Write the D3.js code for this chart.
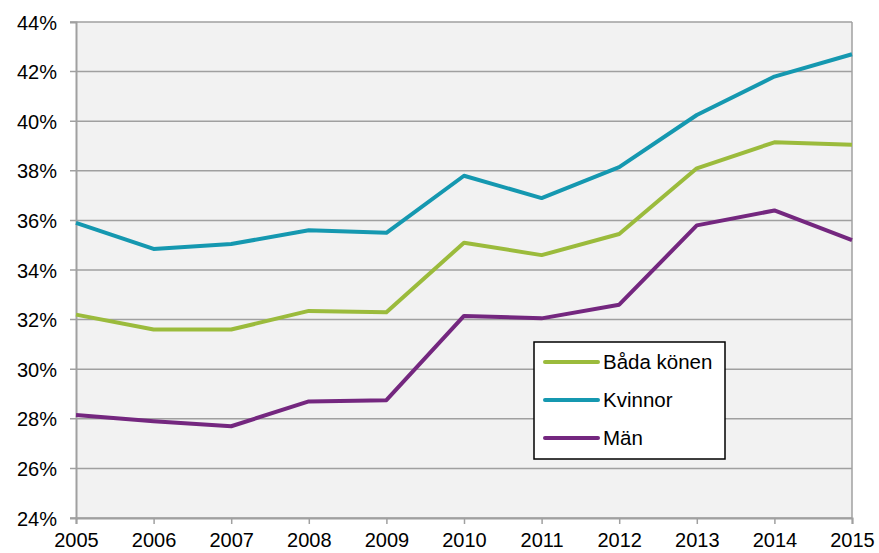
<!DOCTYPE html>
<html>
<head>
  <meta charset="utf-8">
  <title>Andel per år</title>
  <script src="https://d3js.org/d3.v7.min.js"></script>
  <style>
    body { margin: 0; background: #fff; font-family: Arial, "Liberation Sans", sans-serif; }
    svg text { font-family: Arial, "Liberation Sans", sans-serif; fill: #000; }
  </style>
</head>
<body>
  <svg width="879" height="553"></svg>
  <script>
    // data
    const years = [2005, 2006, 2007, 2008, 2009, 2010, 2011, 2012, 2013, 2014, 2015];
    const bada = [32.2, 31.6, 31.6, 32.35, 32.3, 35.1, 34.6, 35.45, 38.1, 39.15, 39.05];
    const kvinnor = [35.9, 34.85, 35.05, 35.6, 35.5, 37.8, 36.9, 38.15, 40.25, 41.8, 42.7];
    const man = [28.15, 27.9, 27.7, 28.7, 28.75, 32.15, 32.05, 32.6, 35.8, 36.4, 35.2];
    const yTicks = [24, 26, 28, 30, 32, 34, 36, 38, 40, 42, 44];

    const series = [
      { name: "Båda könen", values: bada, color: "#9bbb3c" },
      { name: "Kvinnor", values: kvinnor, color: "#1598b0" },
      { name: "Män", values: man, color: "#74277f" }
    ];

    const svg = d3.select("svg");
    const plot = { left: 76, right: 852, top: 22, bottom: 518 };

    const x = d3.scaleLinear().domain([2005, 2015]).range([plot.left, plot.right]);
    const y = d3.scaleLinear().domain([24, 44]).range([plot.bottom, plot.top]);

    // plot background
    svg.append("rect")
      .attr("x", plot.left).attr("y", plot.top)
      .attr("width", plot.right - plot.left).attr("height", plot.bottom - plot.top)
      .attr("fill", "#f2f2f2");

    // horizontal grid
    svg.append("g").selectAll("line")
      .data(yTicks)
      .enter().append("line")
      .attr("x1", plot.left - 6).attr("x2", plot.right)
      .attr("y1", d => y(d)).attr("y2", d => y(d))
      .attr("stroke", "#a0a0a0").attr("stroke-width", 1.5);

    // right border
    svg.append("line")
      .attr("x1", plot.right).attr("x2", plot.right).attr("y1", plot.top).attr("y2", plot.bottom)
      .attr("stroke", "#a0a0a0").attr("stroke-width", 1.5);

    // y axis
    const yAxis = svg.append("g")
      .attr("transform", `translate(${plot.left},0)`)
      .call(d3.axisLeft(y).tickValues(yTicks).tickSize(6).tickPadding(13).tickFormat(d => d + "%"));
    yAxis.select(".domain").attr("stroke", "#a0a0a0").attr("stroke-width", 2);
    yAxis.selectAll(".tick line").remove();
    yAxis.selectAll("text").attr("font-size", 20).attr("dy", "0.35em");

    // x axis
    const xAxis = svg.append("g")
      .attr("transform", `translate(0,${plot.bottom})`)
      .call(d3.axisBottom(x).tickValues(years).tickSize(6).tickPadding(9).tickFormat(d3.format("d")));
    xAxis.select(".domain").attr("stroke", "#a0a0a0").attr("stroke-width", 2);
    xAxis.selectAll(".tick line").attr("stroke", "#a0a0a0").attr("stroke-width", 1.5);
    xAxis.selectAll("text").attr("font-size", 20);

    // lines
    const line = d3.line()
      .x((d, i) => x(years[i]))
      .y(d => y(d));

    svg.append("g").selectAll("path")
      .data(series)
      .enter().append("path")
      .attr("d", d => line(d.values))
      .attr("fill", "none")
      .attr("stroke", d => d.color)
      .attr("stroke-width", 4)
      .attr("stroke-linejoin", "round");

    // legend
    const legend = svg.append("g").attr("transform", "translate(534,342)");
    legend.append("rect")
      .attr("width", 191).attr("height", 117)
      .attr("fill", "#fff").attr("stroke", "#000").attr("stroke-width", 1.5);

    const item = legend.selectAll(".item")
      .data(series)
      .enter().append("g")
      .attr("transform", (d, i) => `translate(0,${20 + i * 38})`);
    item.append("line")
      .attr("x1", 11).attr("x2", 64)
      .attr("stroke", d => d.color).attr("stroke-width", 4)
      .attr("stroke-linecap", "round");
    item.append("text")
      .attr("x", 69).attr("dy", "0.35em")
      .attr("font-size", 20.5)
      .text(d => d.name);
  </script>
</body>
</html>
